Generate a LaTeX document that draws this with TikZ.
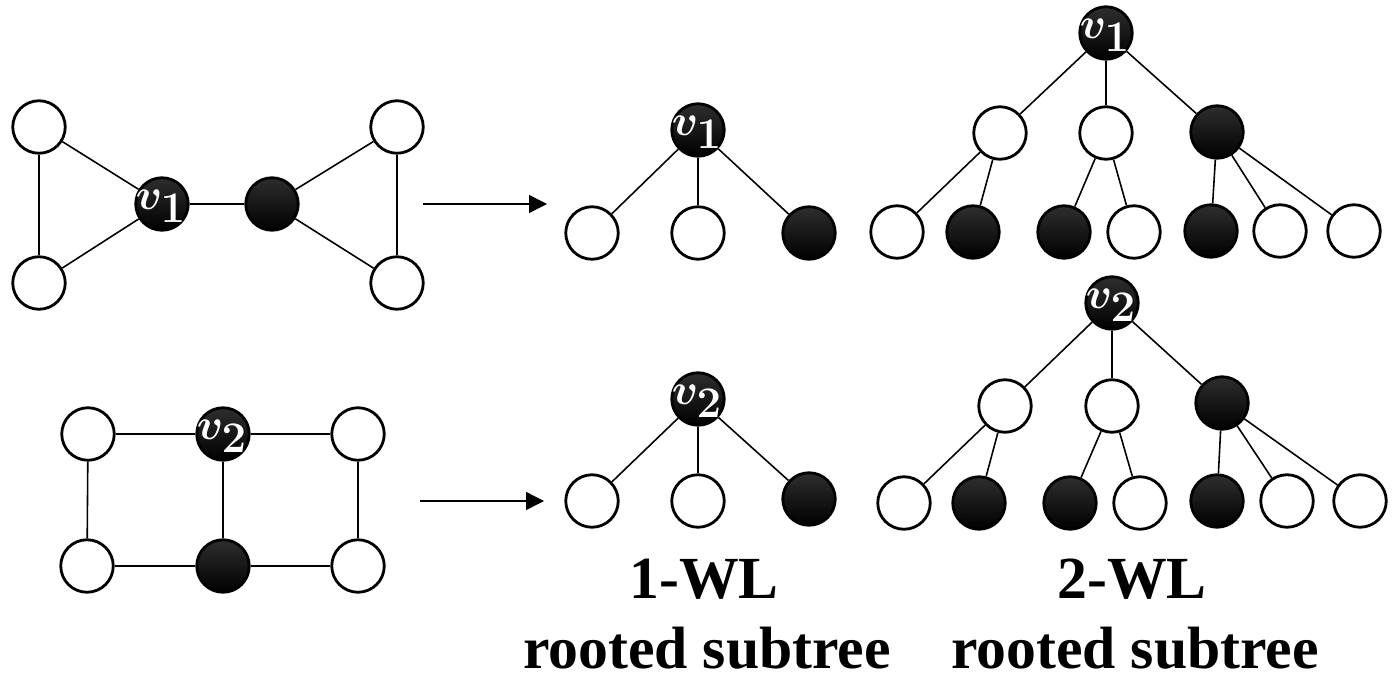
\documentclass[tikz,border=0pt]{standalone}
\usepackage{fontspec}
\setmainfont{Liberation Serif}
\usepackage{amsmath}
\usepackage{tikz}
\usetikzlibrary{arrows.meta,positioning}

\begin{document}
\begin{tikzpicture}[x=0.02cm, y=-0.02cm,
    wnode/.style={circle, draw, line width=1.6pt, fill=white, minimum size=1.05cm, inner sep=0pt},
    bnode/.style={circle, draw, line width=1.6pt, top color=black!82, bottom color=black, minimum size=1.05cm, inner sep=0pt},
    vlab/.style={text=white, font=\fontsize{35}{35}\selectfont\boldmath, inner sep=0pt},
    edge/.style={line width=0.9pt},
    arrow/.style={-{Triangle[length=0.36cm, width=0.36cm]}, line width=0.8pt},
    captext/.style={font=\fontsize{34}{34}\selectfont\bfseries, anchor=base}
]
\useasboundingbox (0,0) rectangle (1392,682);

% Graph 1
\node[wnode] (a1) at (39,127) {};
\node[wnode] (a2) at (39,283) {};
\node[bnode] (v1) at (162,204) {};
\node[bnode] (a3) at (272,204) {};
\node[wnode] (a4) at (397,127) {};
\node[wnode] (a5) at (397,283) {};
\node[vlab] (v1lab) at (161,206) {$v_1$};

\draw[edge] (a1) -- (a2);
\draw[edge] (a1) -- (v1);
\draw[edge] (a2) -- (v1);
\draw[edge] (v1) -- (a3);
\draw[edge] (a3) -- (a4);
\draw[edge] (a3) -- (a5);
\draw[edge] (a4) -- (a5);

% Graph 2
\node[wnode] (c1) at (88,434) {};
\node[bnode] (v2) at (223,434) {};
\node[wnode] (c2) at (358,434) {};
\node[wnode] (c3) at (87,566) {};
\node[bnode] (c4) at (223,566) {};
\node[wnode] (c5) at (358,566) {};
\node[vlab] (v2lab) at (222,436) {$v_2$};

\draw[edge] (c1) -- (v2);
\draw[edge] (v2) -- (c2);
\draw[edge] (c1) -- (c3);
\draw[edge] (v2) -- (c4);
\draw[edge] (c2) -- (c5);
\draw[edge] (c3) -- (c4);
\draw[edge] (c4) -- (c5);

% Arrows
\coordinate (p1s) at (423,204);
\coordinate (p1e) at (547,204);
\coordinate (p2s) at (420,501);
\coordinate (p2e) at (544,501);
\draw[arrow] (p1s) -- (p1e);
\draw[arrow] (p2s) -- (p2e);

% 1-WL trees
\node[bnode] (t1r) at (698,130) {};
\node[wnode] (t1a) at (592,233) {};
\node[wnode] (t1b) at (698,233) {};
\node[bnode] (t1c) at (809,233) {};
\node[vlab] (t1lab) at (697,132) {$v_1$};
\draw[edge] (t1r) -- (t1a);
\draw[edge] (t1r) -- (t1b);
\draw[edge] (t1r) -- (t1c);

\node[bnode] (t2r) at (698,399) {};
\node[wnode] (t2a) at (592,501) {};
\node[wnode] (t2b) at (698,501) {};
\node[bnode] (t2c) at (809,499) {};
\node[vlab] (t2lab) at (697,401) {$v_2$};
\draw[edge] (t2r) -- (t2a);
\draw[edge] (t2r) -- (t2b);
\draw[edge] (t2r) -- (t2c);

% 2-WL trees
\node[bnode] (s1r) at (1106,33) {};
\node[wnode] (s1a) at (1000,133) {};
\node[wnode] (s1b) at (1106,133) {};
\node[bnode] (s1c) at (1217,132) {};
\node[wnode] (s1d) at (897,232) {};
\node[bnode] (s1e) at (973,232) {};
\node[bnode] (s1f) at (1064,232) {};
\node[wnode] (s1g) at (1134,232) {};
\node[bnode] (s1h) at (1211,231) {};
\node[wnode] (s1i) at (1280,231) {};
\node[wnode] (s1j) at (1354,231) {};
\node[vlab] (s1lab) at (1105,35) {$v_1$};
\draw[edge] (s1r) -- (s1a);
\draw[edge] (s1r) -- (s1b);
\draw[edge] (s1r) -- (s1c);
\draw[edge] (s1a) -- (s1d);
\draw[edge] (s1a) -- (s1e);
\draw[edge] (s1b) -- (s1f);
\draw[edge] (s1b) -- (s1g);
\draw[edge] (s1c) -- (s1h);
\draw[edge] (s1c) -- (s1i);
\draw[edge] (s1c) -- (s1j);

\node[bnode] (s2r) at (1112,303) {};
\node[wnode] (s2a) at (1005,406) {};
\node[wnode] (s2b) at (1112,406) {};
\node[bnode] (s2c) at (1222,403) {};
\node[wnode] (s2d) at (904,503) {};
\node[bnode] (s2e) at (979,503) {};
\node[bnode] (s2f) at (1070,503) {};
\node[wnode] (s2g) at (1140,503) {};
\node[bnode] (s2h) at (1217,501) {};
\node[wnode] (s2i) at (1287,501) {};
\node[wnode] (s2j) at (1360,501) {};
\node[vlab] (s2lab) at (1111,305) {$v_2$};
\draw[edge] (s2r) -- (s2a);
\draw[edge] (s2r) -- (s2b);
\draw[edge] (s2r) -- (s2c);
\draw[edge] (s2a) -- (s2d);
\draw[edge] (s2a) -- (s2e);
\draw[edge] (s2b) -- (s2f);
\draw[edge] (s2b) -- (s2g);
\draw[edge] (s2c) -- (s2h);
\draw[edge] (s2c) -- (s2i);
\draw[edge] (s2c) -- (s2j);

% Captions
\node[captext] (cap1a) at (704,598) {1-WL};
\node[captext] (cap1b) at (707,668) {rooted subtree};
\node[captext] (cap2a) at (1132,598) {2-WL};
\node[captext] (cap2b) at (1135,668) {rooted subtree};

\end{tikzpicture}
\end{document}
